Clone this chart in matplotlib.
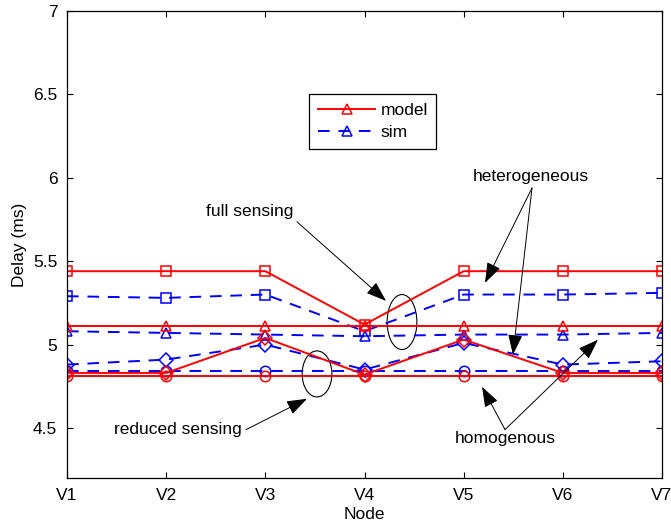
import matplotlib
matplotlib.use("Agg")
import matplotlib.pyplot as plt
import numpy as np
from matplotlib.patches import Ellipse

plt.rcParams['font.family'] = ['Liberation Sans', 'DejaVu Sans']

nodes = ['V1', 'V2', 'V3', 'V4', 'V5', 'V6', 'V7']

# model (red, solid)
model_sq = [5.44, 5.44, 5.44, 5.12, 5.44, 5.44, 5.44]
model_tri = [5.11, 5.11, 5.11, 5.11, 5.11, 5.11, 5.11]
model_dia = [4.83, 4.83, 5.04, 4.82, 5.03, 4.83, 4.83]
model_circ = [4.81, 4.81, 4.81, 4.81, 4.81, 4.81, 4.81]

# sim (blue, dashed)
sim_sq = [5.29, 5.28, 5.30, 5.08, 5.30, 5.30, 5.31]
sim_tri = [5.08, 5.07, 5.06, 5.05, 5.06, 5.06, 5.07]
sim_dia = [4.88, 4.91, 5.00, 4.85, 5.01, 4.88, 4.90]
sim_circ = [4.84, 4.84, 4.84, 4.84, 4.84, 4.84, 4.84]

x = np.arange(1, len(nodes) + 1)

fig = plt.figure(figsize=(6.71, 5.29), dpi=100)
ax = fig.add_axes([0.0999, 0.0964, 0.8867, 0.8828])

mk = dict(markersize=7.5, markerfacecolor='none', markeredgewidth=1.1)
red = dict(color='red', linestyle='-', linewidth=1.4, **mk)
blue = dict(color='blue', linestyle='--', dashes=(6, 4.5), linewidth=1.4, **mk)

ax.plot(x, sim_sq, marker='s', **blue)
ax.plot(x, sim_tri, marker='^', label='sim', **blue)
ax.plot(x, sim_dia, marker='D', **blue)
ax.plot(x, sim_circ, marker='o', **blue)
ax.plot(x, model_sq, marker='s', **red)
ax.plot(x, model_tri, marker='^', label='model', **red)
ax.plot(x, model_dia, marker='D', **red)
ax.plot(x, model_circ, marker='o', **red)

ax.set_xlim(1, 7)
ax.set_ylim(4.2, 7)
ax.set_xticks(x)
ax.set_xticklabels(nodes)
ax.set_yticks([4.5, 5, 5.5, 6, 6.5, 7])
ax.set_yticklabels(['4.5', '5', '5.5', '6', '6.5', '7'])
ax.tick_params(direction='in', length=4, width=0.8, top=True, right=True,
               labelsize=12.5, pad=7)
for s in ax.spines.values():
    s.set_linewidth(0.9)
ax.set_xlabel('Node', fontsize=12.5, labelpad=3)
ax.set_ylabel('Delay (ms)', fontsize=12.5, labelpad=4)

h, l = ax.get_legend_handles_labels()
leg = ax.legend(h[::-1], l[::-1], loc='upper left', bbox_to_anchor=(0.407, 0.822),
                fontsize=12.5, handlelength=3.3, handletextpad=0.3,
                fancybox=False, edgecolor='black', framealpha=1,
                borderaxespad=0, borderpad=0.5, labelspacing=0.4)
leg.get_frame().set_linewidth(0.9)

# annotations
ax.add_patch(Ellipse((4.378, 5.135), 0.30, 0.33, fill=False, edgecolor='black', lw=0.8))
ax.add_patch(Ellipse((3.521, 4.824), 0.30, 0.276, fill=False, edgecolor='black', lw=0.8))

arw = dict(arrowstyle='-|>,head_length=0.9,head_width=0.32', color='black', lw=0.7,
           shrinkA=0, shrinkB=0, mutation_scale=14)
fs = 12.5

ax.text(2.845, 5.796, 'full sensing', ha='center', va='center', fontsize=fs)
ax.annotate('', xy=(4.217, 5.262), xytext=(3.319, 5.736), arrowprops=arw)

ax.text(2.119, 4.490, 'reduced sensing', ha='center', va='center', fontsize=fs)
ax.annotate('', xy=(3.420, 4.675), xytext=(2.805, 4.490), arrowprops=arw)

ax.text(5.679, 6.005, 'heterogeneous', ha='center', va='center', fontsize=fs)
ax.annotate('', xy=(5.215, 5.370), xytext=(5.689, 5.939), arrowprops=arw)
ax.annotate('', xy=(5.497, 4.939), xytext=(5.689, 5.939), arrowprops=arw)

ax.text(5.417, 4.436, 'homogenous', ha='center', va='center', fontsize=fs)
ax.annotate('', xy=(5.185, 4.747), xytext=(5.417, 4.490), arrowprops=arw)
ax.annotate('', xy=(6.354, 5.029), xytext=(5.417, 4.490), arrowprops=arw)

fig.savefig('out.png', dpi=100)
